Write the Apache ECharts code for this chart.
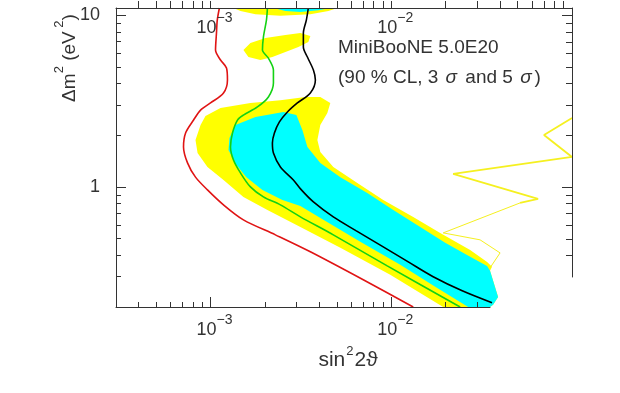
<!DOCTYPE html>
<html>
<head>
<meta charset="utf-8">
<script src="https://cdn.jsdelivr.net/npm/echarts@6/dist/echarts.min.js"></script>
<style>
  html, body { margin: 0; padding: 0; background: #fff; }
  #chart { width: 620px; height: 393px; }
</style>
</head>
<body>
<div id="chart"></div>
<script>
// axis ranges and ticks
const xRange = [3e-4, 0.1];
const yRange = [0.2, 11];
const xMajorTicks = [1e-3, 1e-2];
const xMinorTicks = [4e-4, 5e-4, 6e-4, 7e-4, 8e-4, 9e-4, 2e-3, 3e-3, 4e-3, 5e-3, 6e-3, 7e-3, 8e-3, 9e-3, 2e-2, 3e-2, 4e-2, 5e-2, 6e-2, 7e-2, 8e-2, 9e-2];
const yMajorTicks = [1, 10];
const yMinorTicks = [0.3, 0.4, 0.5, 0.6, 0.7, 0.8, 0.9, 2, 3, 4, 5, 6, 7, 8, 9];

// sensitivity curves: 90% CL (red), 3 sigma (green), 5 sigma (black)
const redLine = [[1.12e-3, 11], [1.09e-3, 9.35], [1.079e-3, 7.86], [1.066e-3, 6.26], [1.136e-3, 5.48], [1.226e-3, 4.92], [1.241e-3, 4.19], [1.18e-3, 3.52], [1.0e-3, 3.08], [0.881e-3, 2.8], [0.806e-3, 2.45], [0.728e-3, 2.06], [0.709e-3, 1.71], [0.746e-3, 1.38], [0.826e-3, 1.14], [0.962e-3, 0.961], [1.18e-3, 0.786], [1.521e-3, 0.643], [2.286e-3, 0.526], [3.568e-3, 0.419], [7.0e-3, 0.288], [13.23e-3, 0.2]];
const greenLine = [[2.065e-3, 11], [2.039e-3, 9.35], [1.962e-3, 7.45], [1.938e-3, 6.26], [2.091e-3, 5.62], [2.229e-3, 4.79], [2.229e-3, 4.02], [2.091e-3, 3.34], [1.818e-3, 2.92], [1.521e-3, 2.62], [1.41e-3, 2.45], [1.323e-3, 2.06], [1.29e-3, 1.71], [1.34e-3, 1.436], [1.465e-3, 1.206], [1.663e-3, 1.0], [1.962e-3, 0.875], [2.436e-3, 0.786], [3.142e-3, 0.669], [4.78e-3, 0.526], [9.5e-3, 0.347], [24.05e-3, 0.2]];
const blackLine = [[3.477e-3, 11], [3.39e-3, 9.35], [3.264e-3, 7.86], [3.264e-3, 6.52], [3.436e-3, 5.7], [3.709e-3, 4.79], [3.804e-3, 4.19], [3.568e-3, 3.52], [3.025e-3, 3.08], [2.664e-3, 2.73], [2.406e-3, 2.39], [2.257e-3, 2.06], [2.2e-3, 1.8], [2.229e-3, 1.577], [2.436e-3, 1.307], [2.874e-3, 1.098], [3.183e-3, 0.961], [3.709e-3, 0.818], [4.78e-3, 0.669], [6.41e-3, 0.555], [9.03e-3, 0.448], [12.42e-3, 0.366], [17.06e-3, 0.3], [24.7e-3, 0.2485], [36.1e-3, 0.2117]];

// allowed regions (yellow outer, cyan inner)
const yellowBand = [[0.826e-3, 1.876], [0.881e-3, 2.293], [0.938e-3, 2.587], [1.136e-3, 2.88], [1.663e-3, 3.08], [2.436e-3, 3.2], [3.349e-3, 3.34], [4.05e-3, 3.34], [4.6e-3, 3.08], [4.43e-3, 2.69], [4.05e-3, 2.293], [3.902e-3, 1.876], [4.05e-3, 1.598], [4.78e-3, 1.307], [6.49e-3, 1.055], [9.03e-3, 0.84], [13.23e-3, 0.669], [18.65e-3, 0.54], [27.32e-3, 0.43], [33.9e-3, 0.366], [36.1e-3, 0.343], [35.2e-3, 0.325], [39.0e-3, 0.229], [36.6e-3, 0.206], [35.2e-3, 0.2], [19.38e-3, 0.2], [9.87e-3, 0.308], [5.23e-3, 0.442], [3.142e-3, 0.585], [2.065e-3, 0.735], [1.521e-3, 0.875], [1.18e-3, 1.098], [0.962e-3, 1.307], [0.848e-3, 1.577]];
const cyanBand = [[1.257e-3, 1.641], [1.273e-3, 1.927], [1.374e-3, 2.293], [1.773e-3, 2.553], [2.532e-3, 2.73], [2.986e-3, 2.62], [3.223e-3, 2.145], [3.436e-3, 1.71], [4.05e-3, 1.38], [5.23e-3, 1.14], [7.37e-3, 0.923], [10.26e-3, 0.735], [14.46e-3, 0.585], [19.88e-3, 0.473], [27.32e-3, 0.392], [33.9e-3, 0.347], [35.2e-3, 0.325], [39.0e-3, 0.229], [36.6e-3, 0.206], [35.2e-3, 0.2], [26.63e-3, 0.2], [17.51e-3, 0.262], [11.21e-3, 0.352], [6.74e-3, 0.479], [4.21e-3, 0.643], [3.142e-3, 0.775], [2.499e-3, 0.84], [1.938e-3, 0.961], [1.58e-3, 1.14], [1.392e-3, 1.342]];
const yellowTop = [[1.34e-3, 11], [1.465e-3, 10.55], [1.773e-3, 10.13], [2.436e-3, 9.93], [3.568e-3, 10.13], [4.49e-3, 10.55], [5.03e-3, 11]];
const cyanTop = [[2.229e-3, 11], [2.597e-3, 10.55], [3.142e-3, 10.41], [3.952e-3, 10.69], [4.6e-3, 11]];
const yellowIsland = [[1.521e-3, 6.26], [1.663e-3, 6.87], [2.013e-3, 7.35], [2.597e-3, 7.65], [3.142e-3, 7.86], [3.568e-3, 7.55], [3.477e-3, 6.97], [3.063e-3, 6.52], [2.597e-3, 6.1], [2.2e-3, 5.7], [1.889e-3, 5.48], [1.621e-3, 5.7]];

// yellow zigzag on the right
const zigThick = [[0.1, 2.518], [0.07, 2.006], [0.1, 1.494], [0.022, 1.19], [0.0649, 0.852], [0.0516, 0.807]];
const zigThin = [[0.0516, 0.807], [0.01938, 0.54], [0.031, 0.492], [0.04, 0.413], [0.0352, 0.338]];

const YELLOW = '#ffff00';
const CYAN = '#00ffff';
const FONT = 'Liberation Sans';
const TXT = '#333';
const AX = '#333';

const chart = echarts.init(document.getElementById('chart'));

function area(points, color) {
    return {
        type: 'custom',
        coordinateSystem: 'cartesian2d',
        silent: true,
        z: 2,
        data: points,
        renderItem: function (params, api) {
            if (params.dataIndex !== 0) return null;
            const pts = points.map(function (p) { return api.coord(p); });
            return {
                type: 'polygon',
                shape: { points: echarts.graphic.clipPointsByRect(pts, params.coordSys) },
                style: { fill: color }
            };
        }
    };
}

function curve(data, color, width) {
    return {
        type: 'line',
        data: data,
        showSymbol: false,
        smooth: 0.3,
        silent: true,
        z: 3,
        lineStyle: { color: color, width: width }
    };
}

const powLabel = {
    formatter: function (v) {
        return '{b|10}{s|\u2212' + Math.round(-Math.log10(v)) + '}';
    },
    rich: {
        b: { fontSize: 18, fontFamily: FONT, color: TXT, lineHeight: 26, verticalAlign: 'bottom' },
        s: { fontSize: 14, fontFamily: FONT, color: TXT, lineHeight: 26, verticalAlign: 'top' }
    }
};

const noLine = { show: false };

option = {
    animation: false,
    backgroundColor: '#fff',
    grid: [
        { left: 116, right: 48, top: 8, bottom: 86 },   // data
        { left: 116, right: 48, top: 8, bottom: 116 },  // right frame
        { left: 116, right: 130, top: 8, bottom: 86 }   // bottom frame
    ],
    xAxis: [
        { type: 'log', gridIndex: 0, min: xRange[0], max: xRange[1], show: false },
        {
            type: 'log', gridIndex: 0, position: 'top', min: xRange[0], max: xRange[1], z: 10,
            axisLine: { lineStyle: { color: AX, width: 1 } },
            axisTick: { inside: false, length: 7, lineStyle: { color: AX }, customValues: xMajorTicks.concat(xMinorTicks) },
            axisLabel: Object.assign({ inside: true, margin: 3, padding: [0, 0, 0, 8], customValues: xMajorTicks }, powLabel),
            splitLine: noLine
        },
        {
            type: 'log', gridIndex: 2, position: 'bottom', min: xRange[0], max: 0.0352, z: 10,
            axisLine: { lineStyle: { color: AX, width: 1 } },
            axisTick: { inside: true, length: 10, lineStyle: { color: AX }, customValues: xMajorTicks },
            axisLabel: Object.assign({ margin: 6, padding: [0, 0, 0, 8], customValues: xMajorTicks }, powLabel),
            splitLine: noLine
        },
        {
            type: 'log', gridIndex: 2, position: 'bottom', min: xRange[0], max: 0.0352, z: 10,
            axisLine: noLine,
            axisTick: { inside: true, length: 5, lineStyle: { color: AX }, customValues: xMinorTicks },
            axisLabel: noLine,
            splitLine: noLine
        },
        { type: 'log', gridIndex: 1, min: xRange[0], max: xRange[1], show: false }
    ],
    yAxis: [
        {
            type: 'log', gridIndex: 0, position: 'left', min: yRange[0], max: yRange[1], z: 10,
            axisLine: { lineStyle: { color: AX, width: 1 } },
            axisTick: { inside: true, length: 10, lineStyle: { color: AX }, customValues: yMajorTicks },
            axisLabel: { margin: 16, customValues: yMajorTicks, fontSize: 18, fontFamily: FONT, color: TXT },
            splitLine: noLine
        },
        {
            type: 'log', gridIndex: 0, position: 'left', min: yRange[0], max: yRange[1], z: 10,
            axisLine: noLine,
            axisTick: { inside: true, length: 5, lineStyle: { color: AX }, customValues: yMinorTicks },
            axisLabel: noLine,
            splitLine: noLine
        },
        { type: 'log', gridIndex: 2, min: yRange[0], max: yRange[1], show: false },
        {
            type: 'log', gridIndex: 1, position: 'right', min: 0.3, max: yRange[1], z: 10,
            axisLine: { lineStyle: { color: AX, width: 1 } },
            axisTick: { inside: true, length: 10, lineStyle: { color: AX }, customValues: yMajorTicks },
            axisLabel: noLine,
            splitLine: noLine
        },
        {
            type: 'log', gridIndex: 1, position: 'right', min: 0.3, max: yRange[1], z: 10,
            axisLine: noLine,
            axisTick: { inside: true, length: 6, lineStyle: { color: AX }, customValues: yMinorTicks.slice(1) },
            axisLabel: noLine,
            splitLine: noLine
        }
    ],
    graphic: [
        {
            type: 'text', x: 66, y: 58, rotation: Math.PI / 2,
            style: {
                text: '{a|\u0394m}{s|2}{a| (eV}{s| 2}{a|)}',
                align: 'center', verticalAlign: 'middle',
                rich: {
                    a: { fontSize: 19, fontFamily: FONT, fill: TXT, lineHeight: 26, verticalAlign: 'bottom' },
                    s: { fontSize: 13, fontFamily: FONT, fill: TXT, lineHeight: 26, verticalAlign: 'top' }
                }
            }
        },
        {
            type: 'text', x: 348, y: 358,
            style: {
                text: '{a|sin}{s|2}{a|2\u03d1}',
                align: 'center', verticalAlign: 'middle',
                rich: {
                    a: { fontSize: 21, fontFamily: FONT, fill: TXT, lineHeight: 26, verticalAlign: 'bottom' },
                    s: { fontSize: 13, fontFamily: FONT, fill: TXT, lineHeight: 26, verticalAlign: 'top', padding: [0, 1, 0, 1] }
                }
            }
        },
        {
            type: 'text', x: 338, y: 38,
            style: { text: 'MiniBooNE 5.0E20', font: '19px "Liberation Sans"', fill: TXT }
        },
        {
            type: 'text', x: 338, y: 68,
            style: {
                text: '{a|(90 % CL, 3 }{i|\u03c3}{a| and 5 }{i|\u03c3}{a|)}',
                rich: {
                    a: { fontSize: 19, fontFamily: FONT, fill: TXT },
                    i: { fontSize: 19, fontFamily: FONT, fontStyle: 'italic', fill: TXT, padding: [0, 3, 0, 2] }
                }
            }
        }
    ],
    series: [
        area(yellowBand, YELLOW),
        area(yellowTop, YELLOW),
        area(yellowIsland, YELLOW),
        area(cyanBand, CYAN),
        area(cyanTop, CYAN),
        curve(redLine, '#e01414', 1.6),
        curve(greenLine, '#14d214', 1.6),
        curve(blackLine, '#000', 1.6),
        { type: 'line', data: zigThick, showSymbol: false, silent: true, z: 3, lineStyle: { color: '#f5f020', width: 1.8 } },
        { type: 'line', data: zigThin, showSymbol: false, silent: true, z: 3, lineStyle: { color: '#f5f020', width: 1 } }
    ]
};

chart.setOption(option);
</script>
</body>
</html>
